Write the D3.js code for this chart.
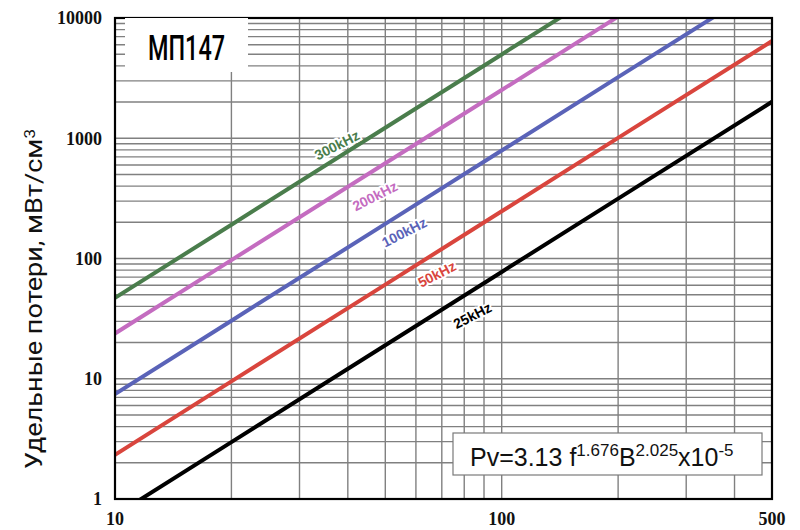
<!DOCTYPE html>
<html>
<head>
<meta charset="utf-8">
<script src="https://cdn.jsdelivr.net/npm/d3@7"></script>
<style>
  body { margin: 0; background: #fff; }
  #graf { width: 800px; height: 530px; }
  .tick-lbl { font-family: "Liberation Serif", "Times New Roman", serif; font-weight: bold; font-size: 18px; fill: #111; }
  .curve-lbl { font-family: "Liberation Sans", Arial, sans-serif; font-weight: bold; font-size: 14px; paint-order: stroke; stroke: #fff; stroke-width: 4px; stroke-linejoin: round; }
</style>
</head>
<body>
<div id="graf"></div>
<script>
// индукция B, мТл
const fluxB = [10, 20, 50, 100, 200, 500]
// удельные потери по частотам, мВт/см3
const loss25 = [0.73, 2.97, 19.0, 77.3, 315, 2010]
const loss50 = [2.33, 9.5, 60.7, 247, 1007, 6430]
const loss100 = [7.45, 30.4, 194, 790, 3220, 20560]
const loss200 = [23.8, 97, 620, 2520, 10270, 65600]
const loss300 = [47, 191, 1223, 4976, 20270, 129000]

const seriesNames = ["25kHz", "50kHz", "100kHz", "200kHz", "300kHz"]
const seriesLoss = [loss25, loss50, loss100, loss200, loss300]
const seriesColors = ["#000000", "#d9453d", "#5a63b8", "#c46cc0", "#4a7d4c"]
// точки подписей кривых (B, Pv)
const labelB = [84, 68, 56, 47, 37.5]
const labelPv = [33.5, 74, 165, 330, 875]

const xTicks = [10, 100, 500]
const yTicks = [1, 10, 100, 1000, 10000]

const margins = { left: 115, top: 18, right: 28, bottom: 31 }
const anchoTotal = 800
const altoTotal = 530
const ancho = anchoTotal - margins.left - margins.right
const alto = altoTotal - margins.top - margins.bottom

const svg = d3.select("#graf")
  .append("svg")
  .attr("width", anchoTotal)
  .attr("height", altoTotal)

const g = svg.append("g")
  .attr("transform", `translate(${margins.left}, ${margins.top})`)

const x = d3.scaleLog().domain([10, 500]).range([0, ancho])
const y = d3.scaleLog().domain([1, 10000]).range([alto, 0])

// сетка
const xGrid = []
for (let d = 10; d <= 100; d *= 10) for (let k = 1; k <= 9; k++) if (k * d <= 500) xGrid.push(k * d)
const yGrid = []
for (let d = 1; d < 10000; d *= 10) for (let k = 1; k <= 9; k++) yGrid.push(k * d)

g.append("g").selectAll("line").data(xGrid).enter().append("line")
  .attr("x1", d => x(d)).attr("x2", d => x(d))
  .attr("y1", 0).attr("y2", alto)
  .attr("stroke", "#808080").attr("stroke-width", 1.4)

g.append("g").selectAll("line").data(yGrid).enter().append("line")
  .attr("x1", 0).attr("x2", ancho)
  .attr("y1", d => y(d)).attr("y2", d => y(d))
  .attr("stroke", "#808080").attr("stroke-width", 1.4)

// кривые
svg.append("clipPath").attr("id", "clip")
  .append("rect").attr("width", ancho).attr("height", alto)

const line = d3.line().x(d => x(d[0])).y(d => y(d[1]))

g.append("g").attr("clip-path", "url(#clip)")
  .selectAll("path").data(seriesLoss).enter().append("path")
  .attr("d", s => line(fluxB.map((b, i) => [b, s[i]])))
  .attr("fill", "none")
  .attr("stroke", (s, i) => seriesColors[i])
  .attr("stroke-width", 4)

// подписи кривых
g.append("g").selectAll("text").data(seriesNames).enter().append("text")
  .attr("class", "curve-lbl")
  .attr("transform", (d, i) => `translate(${x(labelB[i])}, ${y(labelPv[i])}) rotate(-27)`)
  .attr("text-anchor", "middle")
  .attr("dy", "0.35em")
  .attr("fill", (d, i) => seriesColors[i])
  .text(d => d)

// рамка
g.append("rect")
  .attr("width", ancho).attr("height", alto)
  .attr("fill", "none").attr("stroke", "#000").attr("stroke-width", 2.2)

// оси
g.append("g").selectAll("text").data(yTicks).enter().append("text")
  .attr("class", "tick-lbl")
  .attr("x", -13).attr("y", d => y(d)).attr("dy", "0.35em")
  .attr("text-anchor", "end")
  .text(d => d)

g.append("g").selectAll("text").data(xTicks).enter().append("text")
  .attr("class", "tick-lbl")
  .attr("x", d => x(d)).attr("y", alto + 26)
  .attr("text-anchor", "middle")
  .text(d => d)

// заголовок оси Y
const yTitle = svg.append("text")
  .attr("transform", "translate(42, 299) rotate(-90)")
  .attr("text-anchor", "middle")
  .style("font-family", "Roboto, sans-serif")
  .style("font-weight", "400")
  .style("font-size", "24px")
  .attr("fill", "#111")
  .attr("textLength", 340)
  .attr("lengthAdjust", "spacingAndGlyphs")
yTitle.append("tspan").text("Удельные потери, мВт/см")
yTitle.append("tspan").attr("dy", "-0.45em").style("font-size", "15px").text("3")

// марка материала
g.append("rect")
  .attr("x", 10).attr("y", 0).attr("width", 123).attr("height", 54)
  .attr("fill", "#fff")
g.append("text")
  .attr("x", 33).attr("y", 42)
  .style("font-family", "Roboto, sans-serif")
  .style("font-weight", "500")
  .style("font-size", "35px")
  .attr("fill", "#000")
  .attr("textLength", 77)
  .attr("lengthAdjust", "spacingAndGlyphs")
  .text("МП147")

// формула
g.append("rect")
  .attr("x", 338).attr("y", 415).attr("width", 309).attr("height", 42)
  .attr("fill", "#fff").attr("stroke", "#7a7a7a").attr("stroke-width", 1.2)
const formula = g.append("text")
  .attr("x", 355).attr("y", 448)
  .style("font-family", "'Liberation Sans', Arial, sans-serif")
  .style("font-size", "25px")
  .attr("fill", "#111")
formula.append("tspan").text("Pv=3.13 f")
formula.append("tspan").attr("dy", "-10").style("font-size", "17px").text("1.676")
formula.append("tspan").attr("dy", "10").text("B")
formula.append("tspan").attr("dy", "-10").style("font-size", "17px").text("2.025")
formula.append("tspan").attr("dy", "10").text("x10")
formula.append("tspan").attr("dy", "-10").style("font-size", "17px").text("-5")
</script>
</body>
</html>
